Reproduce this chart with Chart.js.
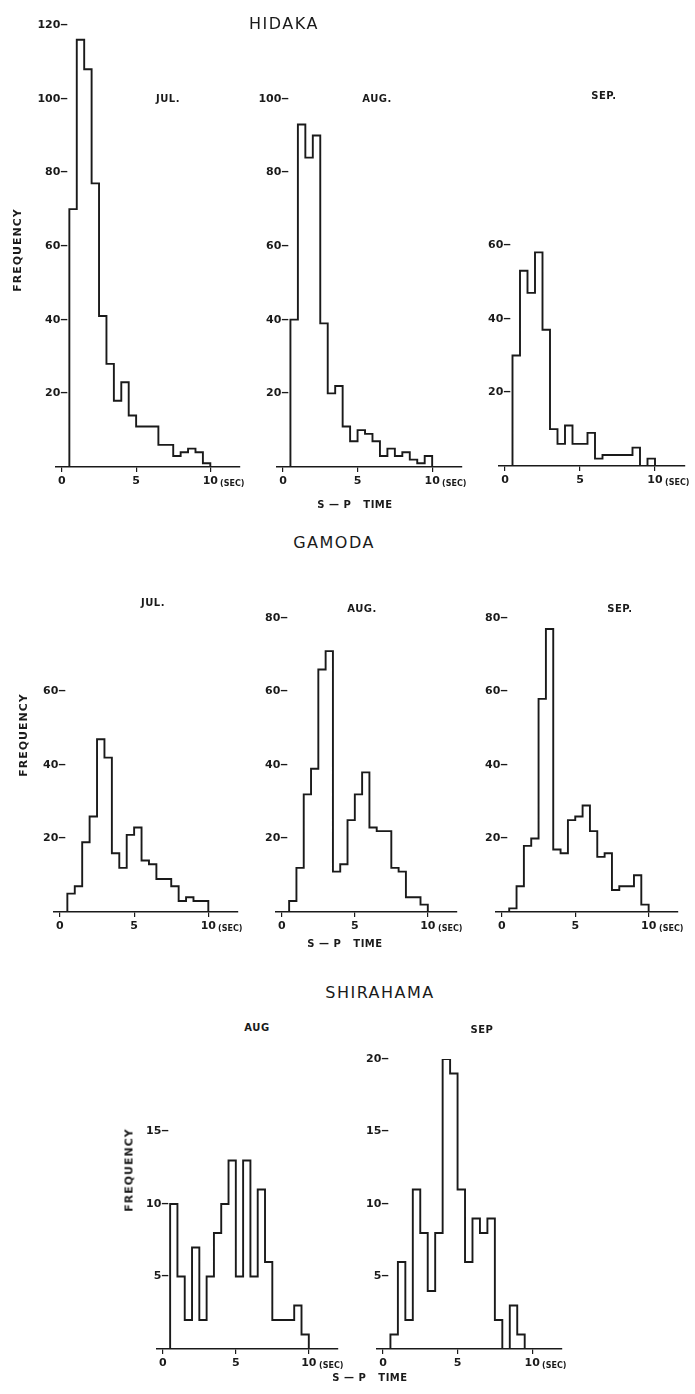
<!DOCTYPE html>
<html>
<head>
<meta charset="utf-8">
<title>S-P time histograms</title>
<script src="https://cdn.jsdelivr.net/npm/chart.js@4.4.1/dist/chart.umd.min.js"></script>
<style>
  body { margin: 0; background: #fff; }
  #page { position: relative; width: 695px; height: 1394px; overflow: hidden; background: #fff; }
  #page canvas { position: absolute; }
  .lbl { position: absolute; transform: translate(-50%, -50%); white-space: pre; color: #1a1a1a;
         font-family: "DejaVu Sans", sans-serif; font-weight: bold; font-size: 10px; letter-spacing: 0.5px; }
  .station { font-weight: normal; font-size: 16px; letter-spacing: 1.5px; }
  .freq { font-size: 11px; letter-spacing: 1px; transform: translate(-50%, -50%) rotate(-90deg); }
  .sec { transform: translate(0, -50%); font-size: 8px; letter-spacing: 0; }
</style>
</head>
<body>
<div id="page"></div>
<script>
// left edge of each 0.5 s bin of S-P time
const binStart = [0.5, 1.0, 1.5, 2.0, 2.5, 3.0, 3.5, 4.0, 4.5, 5.0, 5.5, 6.0, 6.5, 7.0, 7.5, 8.0, 8.5, 9.0, 9.5];
const binEnd = 10;
const xTickValues = [0, 5, 10];

// frequency in each bin
const hidakaJul = [70, 116, 108, 77, 41, 28, 18, 23, 14, 11, 11, 11, 6, 6, 3, 4, 5, 4, 1];
const hidakaAug = [40, 93, 84, 90, 39, 20, 22, 11, 7, 10, 9, 7, 3, 5, 3, 4, 2, 1, 3];
const hidakaSep = [30, 53, 47, 58, 37, 10, 6, 11, 6, 6, 9, 2, 3, 3, 3, 3, 5, 0, 2];
const gamodaJul = [5, 7, 19, 26, 47, 42, 16, 12, 21, 23, 14, 13, 9, 9, 7, 3, 4, 3, 3];
const gamodaAug = [3, 12, 32, 39, 66, 71, 11, 13, 25, 32, 38, 23, 22, 22, 12, 11, 4, 4, 2];
const gamodaSep = [1, 7, 18, 20, 58, 77, 17, 16, 25, 26, 29, 22, 15, 16, 6, 7, 7, 10, 2];
const shirahamaAug = [10, 5, 2, 7, 2, 5, 8, 10, 13, 5, 13, 5, 11, 6, 2, 2, 2, 3, 1];
const shirahamaSep = [1, 6, 2, 11, 8, 4, 8, 20, 19, 11, 6, 9, 8, 9, 2, 0, 3, 1, 0];

// y tick labels of each panel
const hidakaJulTicks = [20, 40, 60, 80, 100, 120];
const hidakaAugTicks = [20, 40, 60, 80, 100];
const hidakaSepTicks = [20, 40, 60];
const gamodaJulTicks = [20, 40, 60];
const gamodaAugTicks = [20, 40, 60, 80];
const gamodaSepTicks = [20, 40, 60, 80];
const shirahamaAugTicks = [5, 10, 15];
const shirahamaSepTicks = [5, 10, 15, 20];

const page = document.getElementById('page');
const ink = '#1a1a1a';
const tickFont = { family: 'DejaVu Sans', size: 11, weight: 'bold' };
const yFont = { family: 'DejaVu Sans', size: 11, weight: 'bold' };
const DASH = '\u2012';
const measureCtx = document.createElement('canvas').getContext('2d');
measureCtx.font = 'bold 11px DejaVu Sans';

function histPoints(values) {
    const pts = [{ x: binStart[0], y: 0 }];
    binStart.forEach((x, i) => pts.push({ x: x, y: values[i] }));
    pts.push({ x: binEnd, y: 0 });
    return pts;
}

// pixel placement of each panel: x=0 and x=10 positions, baseline and top of y range
const panels = [
    { values: hidakaJul, ticks: hidakaJulTicks, yMax: 120, x0: 62, x10: 210, base: 467, top: 25 },
    { values: hidakaAug, ticks: hidakaAugTicks, yMax: 120, x0: 283, x10: 432, base: 467, top: 25 },
    { values: hidakaSep, ticks: hidakaSepTicks, yMax: 120, x0: 505, x10: 655, base: 466, top: 24 },
    { values: gamodaJul, ticks: gamodaJulTicks, yMax: 80, x0: 60, x10: 208, base: 912, top: 618 },
    { values: gamodaAug, ticks: gamodaAugTicks, yMax: 80, x0: 282, x10: 428, base: 912, top: 618 },
    { values: gamodaSep, ticks: gamodaSepTicks, yMax: 80, x0: 502, x10: 649, base: 912, top: 618 },
    { values: shirahamaAug, ticks: shirahamaAugTicks, yMax: 20, x0: 163, x10: 309, base: 1349, top: 1059 },
    { values: shirahamaSep, ticks: shirahamaSepTicks, yMax: 20, x0: 383, x10: 532, base: 1349, top: 1059 }
];

const X_MIN = -0.4, X_MAX = 12, Y_AXIS_W = 45, X_AXIS_H = 24, PAD_T = 12, PAD_R = 6;
const DASH_END = 12; // y labels ("120-") end this far right of the plot's left edge

function addLabel(text, x, y, cls) {
    const d = document.createElement('div');
    d.className = 'lbl ' + (cls || '');
    d.textContent = text;
    d.style.left = x + 'px';
    d.style.top = y + 'px';
    page.appendChild(d);
}

panels.forEach(p => {
    const perSec = (p.x10 - p.x0) / 10;
    const areaLeft = p.x0 + X_MIN * perSec;
    const areaW = (X_MAX - X_MIN) * perSec;
    const canvas = document.createElement('canvas');
    canvas.width = Math.round(areaW + Y_AXIS_W + PAD_R);
    canvas.height = (p.base - p.top) + PAD_T + X_AXIS_H;
    canvas.style.left = (areaLeft - Y_AXIS_W) + 'px';
    canvas.style.top = (p.top - PAD_T) + 'px';
    page.appendChild(canvas);

    const widest = Math.max(...p.ticks.map(v => measureCtx.measureText(v + DASH).width));

    new Chart(canvas, {
        type: 'line',
        data: {
            datasets: [{
                data: histPoints(p.values),
                stepped: true,
                borderColor: ink,
                borderWidth: 1.9,
                borderJoinStyle: 'miter',
                pointRadius: 0,
                fill: false
            }]
        },
        options: {
            responsive: false,
            animation: false,
            layout: { padding: { top: PAD_T, right: PAD_R, left: 0, bottom: 0 } },
            plugins: { legend: { display: false }, tooltip: { enabled: false } },
            scales: {
                x: {
                    type: 'linear',
                    min: X_MIN,
                    max: X_MAX,
                    afterBuildTicks: s => { s.ticks = xTickValues.map(v => ({ value: v })); },
                    afterFit: s => { s.height = X_AXIS_H; },
                    grid: { drawOnChartArea: false, drawTicks: true, tickLength: 5, color: ink, lineWidth: 1.2 },
                    border: { display: true, color: ink, width: 1.4 },
                    ticks: { font: tickFont, color: ink, padding: 3, maxRotation: 0, autoSkip: false }
                },
                y: {
                    min: 0,
                    max: p.yMax,
                    afterBuildTicks: s => { s.ticks = p.ticks.map(v => ({ value: v })); },
                    afterFit: s => { s.width = Y_AXIS_W; },
                    grid: { display: false, drawTicks: false },
                    border: { display: false },
                    ticks: { font: yFont, color: ink, mirror: true, crossAlign: 'far',
                             padding: DASH_END - widest, callback: v => v + DASH }
                }
            }
        }
    });

    addLabel('(SEC)', p.x10 + 10, p.base + 16, 'sec');
});

addLabel('HIDAKA', 284, 23, 'station');
addLabel('GAMODA', 334, 542, 'station');
addLabel('SHIRAHAMA', 380, 992, 'station');

addLabel('JUL.', 168, 98);
addLabel('AUG.', 377, 98);
addLabel('SEP.', 604, 95);
addLabel('JUL.', 153, 602);
addLabel('AUG.', 362, 608);
addLabel('SEP.', 620, 608);
addLabel('AUG', 257, 1027);
addLabel('SEP', 482, 1029);

addLabel('FREQUENCY', 17, 250, 'freq');
addLabel('FREQUENCY', 23, 735, 'freq');
addLabel('FREQUENCY', 129, 1170, 'freq');

addLabel('S \u2014 P   TIME', 355, 504);
addLabel('S \u2014 P   TIME', 345, 943);
addLabel('S \u2014 P   TIME', 370, 1377);
</script>
</body>
</html>
